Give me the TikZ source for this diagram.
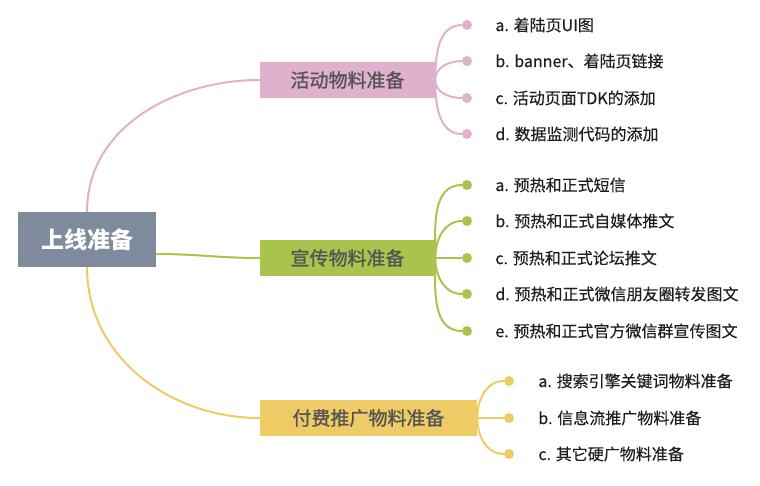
\documentclass[tikz,border=0pt]{standalone}
\usepackage{fontspec}
\setmainfont{Noto Sans CJK SC}
\newfontfamily\mmtopicfont[FakeBold=1.2]{Noto Sans CJK SC}
\newfontfamily\mmleaffont[FakeBold=0.3]{Noto Sans CJK SC}
\usetikzlibrary{positioning}
\definecolor{mmslate}{RGB}{127,138,156}
\definecolor{mmpink}{RGB}{224,177,204}
\definecolor{mmgreen}{RGB}{169,195,76}
\definecolor{mmyellow}{RGB}{238,203,100}
\definecolor{mmgray}{RGB}{85,85,85}
\definecolor{mmink}{RGB}{30,30,30}

\begin{document}
\begin{tikzpicture}[x=1pt,y=1pt,node distance=23pt,
    topic/.style={minimum width=175pt,minimum height=36pt,inner sep=0pt,text=mmgray,font=\fontsize{19}{19}\mmtopicfont},
    bullet/.style={circle,inner sep=0pt,minimum size=10pt},
    leaf/.style={inner sep=0pt,text=mmink,font=\fontsize{16}{16}\mmleaffont},
    branchline/.style={line width=2pt}]
    \useasboundingbox (0,0) rectangle (760,485);
    \node[fill=mmslate,text=white,minimum width=138pt,minimum height=55pt,inner sep=0pt,font=\fontsize{23}{23}\selectfont\bfseries] (prep) at (87,245.5) {上线准备};
    \node[topic,fill=mmpink] (act) at (347.5,405) {活动物料准备};
    \node[topic,fill=mmgreen] (pub) at (347.5,227) {宣传物料准备};
    \node[topic,fill=mmyellow,minimum width=217pt] (paid) at (368.5,67) {付费推广物料准备};
    \draw[branchline,mmpink] (prep.north) to[out=90,in=180] (act.west);
    \draw[branchline,mmgreen] ([yshift=-14.5pt]prep.east) to[out=0,in=180] (pub.west);
    \draw[branchline,mmyellow] (prep.south) to[out=-90,in=180] (paid.west);
    % activity materials
    \node[bullet,fill=mmpink] (act1) at (467,460) {};
    \node[bullet,fill=mmpink] (act2) at (467,424) {};
    \node[bullet,fill=mmpink] (act3) at (467,387) {};
    \node[bullet,fill=mmpink] (act4) at (467,351) {};
    \node[leaf,right=of act1] (act1t) {a. 着陆页UI图};
    \node[leaf,right=of act2] (act2t) {b. banner、着陆页链接};
    \node[leaf,right=of act3] (act3t) {c. 活动页面TDK的添加};
    \node[leaf,right=of act4] (act4t) {d. 数据监测代码的添加};
    \draw[branchline,mmpink] (act.east) to[out=90,in=180] (act1);
    \draw[branchline,mmpink] (act.east) to[out=90,in=180] (act2);
    \draw[branchline,mmpink] (act.east) to[out=-90,in=180] (act3);
    \draw[branchline,mmpink] (act.east) to[out=-90,in=180] (act4);
    % publicity materials
    \node[bullet,fill=mmgreen] (pub1) at (467,300) {};
    \node[bullet,fill=mmgreen] (pub2) at (467,264) {};
    \node[bullet,fill=mmgreen] (pub3) at (467,227) {};
    \node[bullet,fill=mmgreen] (pub4) at (467,191) {};
    \node[bullet,fill=mmgreen] (pub5) at (467,154) {};
    \node[leaf,right=of pub1] (pub1t) {a. 预热和正式短信};
    \node[leaf,right=of pub2] (pub2t) {b. 预热和正式自媒体推文};
    \node[leaf,right=of pub3] (pub3t) {c. 预热和正式论坛推文};
    \node[leaf,right=of pub4] (pub4t) {d. 预热和正式微信朋友圈转发图文};
    \node[leaf,right=of pub5] (pub5t) {e. 预热和正式官方微信群宣传图文};
    \draw[branchline,mmgreen] (pub.east) to[out=90,in=180] (pub1);
    \draw[branchline,mmgreen] (pub.east) to[out=90,in=180] (pub2);
    \draw[branchline,mmgreen] (pub.east) -- (pub3);
    \draw[branchline,mmgreen] (pub.east) to[out=-90,in=180] (pub4);
    \draw[branchline,mmgreen] (pub.east) to[out=-90,in=180] (pub5);
    % paid promotion
    \node[bullet,fill=mmyellow] (paid1) at (509,104) {};
    \node[bullet,fill=mmyellow] (paid2) at (509,67) {};
    \node[bullet,fill=mmyellow] (paid3) at (509,31) {};
    \node[leaf,right=24pt of paid1] (paid1t) {a. 搜索引擎关键词物料准备};
    \node[leaf,right=24pt of paid2] (paid2t) {b. 信息流推广物料准备};
    \node[leaf,right=24pt of paid3] (paid3t) {c. 其它硬广物料准备};
    \draw[branchline,mmyellow] (paid.east) to[out=90,in=180] (paid1);
    \draw[branchline,mmyellow] (paid.east) -- (paid2);
    \draw[branchline,mmyellow] (paid.east) to[out=-90,in=180] (paid3);
\end{tikzpicture}
\end{document}
